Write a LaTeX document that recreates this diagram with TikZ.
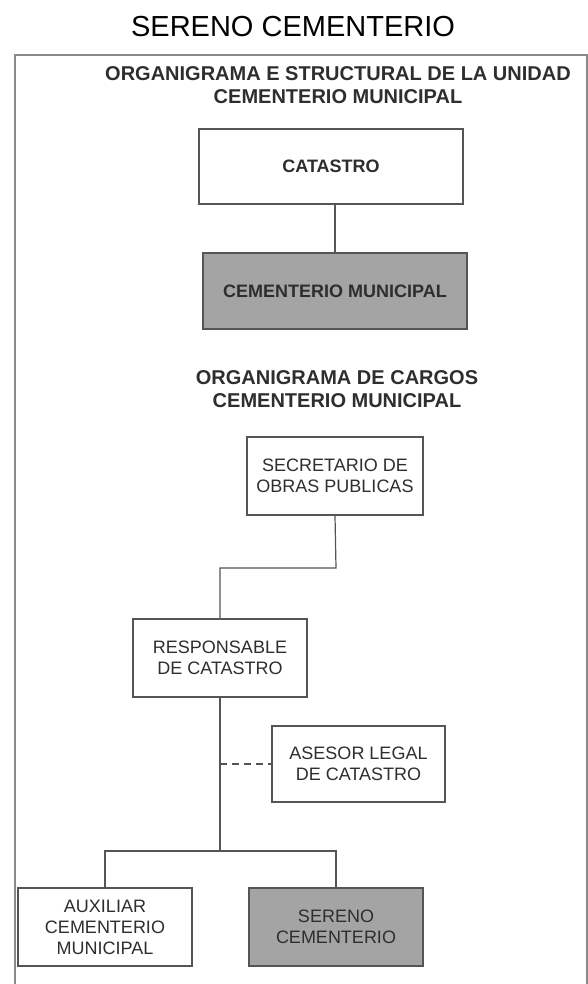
\documentclass[tikz,border=0pt]{standalone}
\usepackage{fontspec}
\setmainfont{Liberation Sans}
\begin{document}
\begin{tikzpicture}[x=1pt,y=-1pt,
  box/.style={draw=boxline, line width=1.4pt, fill=white, inner sep=0pt, align=center, text=txt,
    font=\fontsize{18}{21}\selectfont},
  grey/.style={fill=boxgrey},
  bold/.style={font=\fontsize{18}{21}\selectfont\bfseries},
  head/.style={text=txt, align=center, inner sep=0pt, font=\fontsize{20}{23}\selectfont\bfseries},
  conn/.style={draw=boxline, line width=1.2pt},
  dashconn/.style={conn, dashed, dash pattern=on 7pt off 5pt}
]
\definecolor{boxline}{HTML}{555555}
\definecolor{boxgrey}{HTML}{A4A4A4}
\definecolor{txt}{HTML}{2E2E2E}
\definecolor{frame}{HTML}{8A8A8A}
\useasboundingbox (0,0) rectangle (588,984);
\fill[white] (0,0) rectangle (588,984);
% outer frame
\draw[frame, line width=1.4pt] (15,990) -- (15,55) -- (587,55) -- (587,990);
% title
\node[inner sep=0pt, font=\fontsize{29}{33}\selectfont] (title) at (293,27) {SERENO CEMENTERIO};
% heading 1
\node[head] (h1) at (338,85) {ORGANIGRAMA E STRUCTURAL DE LA UNIDAD\\CEMENTERIO MUNICIPAL};
% structural chart
\node[box, bold, minimum width=264pt, minimum height=75pt] (cat) at (331,166.5) {CATASTRO};
\node[box, grey, bold, minimum width=264pt, minimum height=76pt] (cem) at (335,291) {CEMENTERIO MUNICIPAL};
\draw[conn] (cat.south -| cem.north) -- (cem.north);
% heading 2
\node[head] (h2) at (337,389) {ORGANIGRAMA DE CARGOS\\CEMENTERIO MUNICIPAL};
% chart of positions
\node[box, minimum width=176pt, minimum height=78pt] (sec) at (335,476) {SECRETARIO DE\\OBRAS PUBLICAS};
\node[box, minimum width=174pt, minimum height=78pt] (res) at (220,658) {RESPONSABLE\\DE CATASTRO};
\node[box, minimum width=173pt, minimum height=76pt] (ase) at (358.5,764) {ASESOR LEGAL\\DE CATASTRO};
\node[box, minimum width=174pt, minimum height=78pt] (aux) at (105,927) {AUXILIAR\\CEMENTERIO\\MUNICIPAL};
\node[box, grey, minimum width=174pt, minimum height=78pt] (ser) at (336,927) {SERENO\\CEMENTERIO};
\coordinate (bend) at (336,568);
\coordinate (bar) at (220,851);
\draw[conn] (sec.south) -- (bend) -- (bend -| res.north) -- (res.north);
\draw[conn] (res.south) -- (bar);
\draw[conn] (bar) -- (bar -| aux.north) -- (aux.north);
\draw[conn] (bar) -- (bar -| ser.north) -- (ser.north);
\draw[dashconn] (ase.west -| res.south) -- (ase.west);
\end{tikzpicture}
\end{document}
